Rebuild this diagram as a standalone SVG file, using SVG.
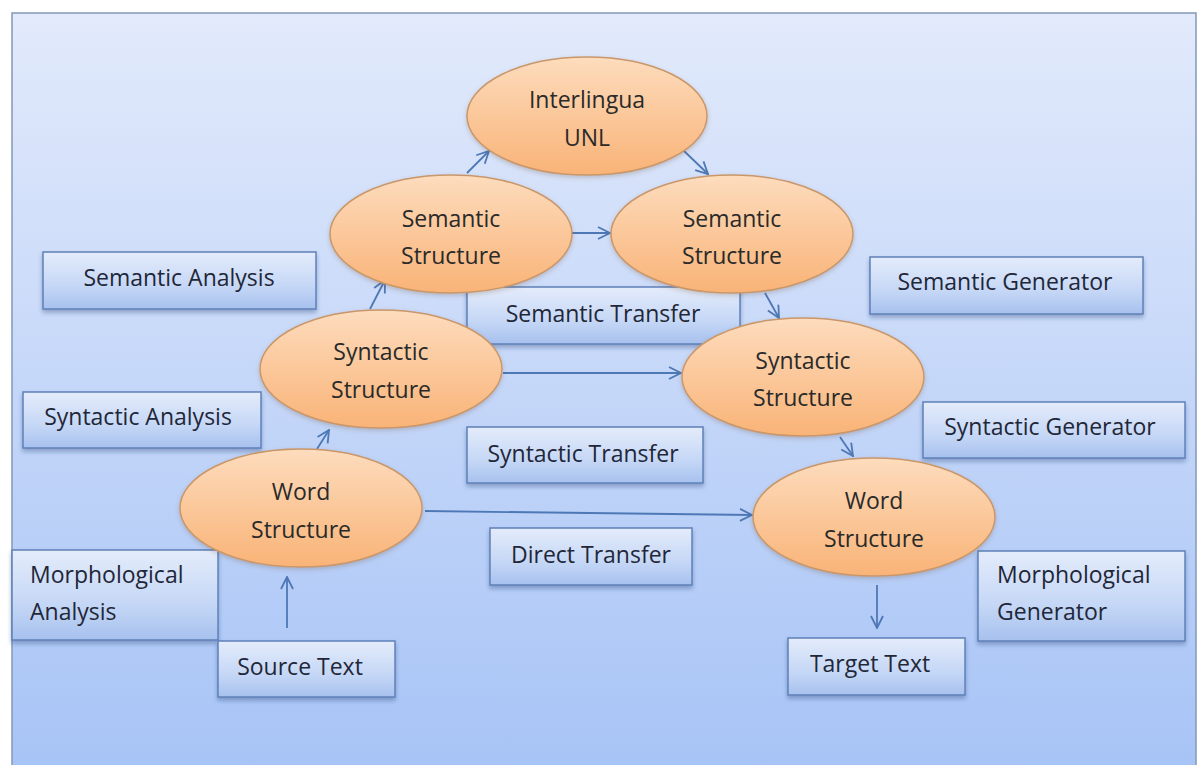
<svg xmlns="http://www.w3.org/2000/svg" width="1202" height="765" viewBox="0 0 1202 765">
<defs>
<linearGradient id="bg" x1="0" y1="0" x2="0" y2="1">
<stop offset="0" stop-color="#e2eafb"/>
<stop offset="1" stop-color="#a6c3f6"/>
</linearGradient>
<linearGradient id="box" x1="0" y1="0" x2="0" y2="1">
<stop offset="0" stop-color="#e4ecfb"/>
<stop offset="0.6" stop-color="#c5d7f6"/>
<stop offset="1" stop-color="#a7c1ee"/>
</linearGradient>
<linearGradient id="ell" x1="0" y1="0" x2="0" y2="1">
<stop offset="0" stop-color="#fddcbd"/>
<stop offset="1" stop-color="#f9b377"/>
</linearGradient>
<filter id="sh" x="-10%" y="-10%" width="120%" height="130%">
<feDropShadow dx="0" dy="3" stdDeviation="2" flood-color="#1c3a6e" flood-opacity="0.35"/>
</filter>
<filter id="esh" x="-10%" y="-10%" width="120%" height="130%">
<feDropShadow dx="0" dy="2" stdDeviation="2" flood-color="#6b4a2a" flood-opacity="0.25"/>
</filter>
<marker id="ah" viewBox="0 0 14 14" refX="13" refY="7" markerWidth="14" markerHeight="14" markerUnits="userSpaceOnUse" orient="auto">
<path d="M1,1 L13,7 L1,13" fill="none" stroke="#4d78b5" stroke-width="1.8"/>
</marker>
</defs>
<style>
.box rect{fill:url(#box);stroke:#5f80b8;stroke-width:1.5;filter:url(#sh)}
.node ellipse{fill:url(#ell);stroke:#c9976b;stroke-width:1.5;filter:url(#esh)}
text{font-family:"Open Sans","Liberation Sans",sans-serif;font-size:23px;fill:#2a2a2a}
.box text{fill:#1f2738}
.c{text-anchor:middle}
#connectors line{stroke:#4d78b5;stroke-width:1.8;marker-end:url(#ah)}
</style>
<rect x="0" y="0" width="1202" height="765" fill="#ffffff"/>
<rect x="12" y="13" width="1184" height="770" fill="url(#bg)" stroke="#8498b8" stroke-width="1.5"/>

<g id="semantic-analysis" class="box"><rect x="43" y="252" width="273" height="57"/><text class="c" x="179" y="286">Semantic Analysis</text></g>
<g id="syntactic-analysis" class="box"><rect x="23" y="392" width="238" height="56"/><text class="c" x="138" y="425">Syntactic Analysis</text></g>
<g id="morphological-analysis" class="box"><rect x="12" y="550" width="206" height="90"/><text x="30" y="583">Morphological</text><text x="30" y="620">Analysis</text></g>
<g id="source-text" class="box"><rect x="218" y="641" width="177" height="56"/><text class="c" x="300" y="675">Source Text</text></g>
<g id="semantic-transfer" class="box"><rect x="467" y="287" width="273" height="57"/><text class="c" x="603" y="322">Semantic Transfer</text></g>
<g id="syntactic-transfer" class="box"><rect x="467" y="427" width="236" height="56"/><text class="c" x="583" y="462">Syntactic Transfer</text></g>
<g id="direct-transfer" class="box"><rect x="490" y="528" width="202" height="57"/><text class="c" x="591" y="563">Direct Transfer</text></g>
<g id="semantic-generator" class="box"><rect x="870" y="257" width="273" height="57"/><text class="c" x="1005" y="290">Semantic Generator</text></g>
<g id="syntactic-generator" class="box"><rect x="923" y="402" width="262" height="56"/><text class="c" x="1050" y="435">Syntactic Generator</text></g>
<g id="morphological-generator" class="box"><rect x="978" y="551" width="207" height="90"/><text x="997" y="583">Morphological</text><text x="997" y="620">Generator</text></g>
<g id="target-text" class="box"><rect x="788" y="638" width="177" height="57"/><text class="c" x="870" y="672">Target Text</text></g>

<g id="connectors">
<line x1="467" y1="173" x2="489" y2="151"/>
<line x1="683" y1="150" x2="708" y2="174"/>
<line x1="572" y1="233" x2="610" y2="233"/>
<line x1="370" y1="309" x2="385" y2="280"/>
<line x1="765" y1="293" x2="779" y2="318"/>
<line x1="503" y1="373" x2="681" y2="373"/>
<line x1="317" y1="449" x2="329" y2="430"/>
<line x1="840" y1="437" x2="853" y2="456"/>
<line x1="425" y1="511" x2="752" y2="515"/>
<line x1="287" y1="628" x2="287" y2="577"/>
<line x1="877" y1="585" x2="877" y2="628"/>
</g>

<g id="interlingua" class="node"><ellipse cx="587" cy="116" rx="120" ry="59"/><text class="c" x="587" y="108">Interlingua</text><text class="c" x="587" y="146">UNL</text></g>
<g id="semantic-structure-src" class="node"><ellipse cx="451" cy="234" rx="121" ry="59"/><text class="c" x="451" y="227">Semantic</text><text class="c" x="451" y="264">Structure</text></g>
<g id="semantic-structure-tgt" class="node"><ellipse cx="732" cy="234" rx="121" ry="59"/><text class="c" x="732" y="227">Semantic</text><text class="c" x="732" y="264">Structure</text></g>
<g id="syntactic-structure-src" class="node"><ellipse cx="381" cy="369" rx="121" ry="59"/><text class="c" x="381" y="360">Syntactic</text><text class="c" x="381" y="398">Structure</text></g>
<g id="syntactic-structure-tgt" class="node"><ellipse cx="803" cy="377" rx="121" ry="59"/><text class="c" x="803" y="369">Syntactic</text><text class="c" x="803" y="406">Structure</text></g>
<g id="word-structure-src" class="node"><ellipse cx="301" cy="508" rx="121" ry="59"/><text class="c" x="301" y="500">Word</text><text class="c" x="301" y="538">Structure</text></g>
<g id="word-structure-tgt" class="node"><ellipse cx="874" cy="517" rx="121" ry="59"/><text class="c" x="874" y="509">Word</text><text class="c" x="874" y="547">Structure</text></g>
</svg>
